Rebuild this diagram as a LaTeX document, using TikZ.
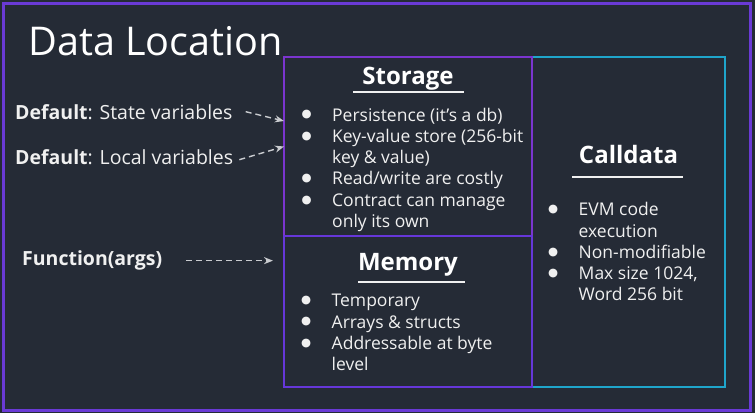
\documentclass[tikz,border=0pt]{standalone}
\usepackage{fontspec}
\setmainfont{Open Sans}
\newfontfamily\dejavu{DejaVu Sans}
\usetikzlibrary{positioning, arrows.meta}

\definecolor{slate}{HTML}{252B36}
\definecolor{framepurple}{HTML}{6A3AD6}
\definecolor{storeviolet}{HTML}{7B35CF}
\definecolor{memviolet}{HTML}{6637D9}
\definecolor{callcyan}{HTML}{1FA5CB}
\definecolor{dashgray}{HTML}{C9CBCF}
\definecolor{inkwhite}{HTML}{F0F0F0}

% bullet with the text column 25.5pt to its right
\newcommand{\itembul}{\makebox[25.5pt][l]{\makebox[0pt]{\raisebox{3.2pt}{\dejavu\fontsize{11.5}{11.5}\selectfont ●}}}}

\begin{document}
\begin{tikzpicture}[
  x=1pt, y=-1pt,
  panel/.style={draw=#1, line width=2.6pt, anchor=north west,
    inner sep=0pt, outer sep=0pt},
  heading/.style={anchor=base, inner sep=0pt, text=white,
    font=\fontsize{24}{28}\selectfont\bfseries},
  bullets/.style={anchor=base west, inner sep=0pt, text=inkwhite,
    font=\fontsize{17.5}{21.3}\selectfont},
  sidelabel/.style={anchor=base west, inner sep=0pt, text=inkwhite,
    font=\fontsize{19.5}{24}\selectfont},
  rule/.style={draw=inkwhite, line width=1.8pt},
  arrow/.style={-{Stealth[length=9pt, width=7pt]}, draw=dashgray,
    line width=1.4pt, dash pattern=on 6pt off 4pt},
]

\useasboundingbox (0,0) rectangle (755,413);
\fill[slate] (0,0) rectangle (755,413);
\draw[framepurple, line width=3pt] (3,3) rectangle (750,410);

\node[anchor=base west, inner sep=0pt, text=white,
  font=\fontsize{39.6}{46}\selectfont] (title) at (28,55) {Data Location};

% the three locations
\node[panel=callcyan, minimum width=193pt, minimum height=330pt] (calldata) at (532,57) {};
\node[panel=storeviolet, minimum width=248pt, minimum height=179pt] (storage) at (284,57) {};
\node[panel=memviolet, minimum width=248pt, minimum height=151pt] (memory) at (284,236) {};

\node[heading] (storhead) at (408,84.3) {Storage};
\draw[rule] ([shift={(-55,7.5)}]storhead.base) -- ([shift={(56,7.5)}]storhead.base);
\node[bullets] (storlist) at (306.5,121) {\begin{tabular}[t]{@{}l@{}l@{}}
  \itembul & Persistence (it’s a db)\\
  \itembul & Key-value store (256-bit\\
           & key \& value)\\
  \itembul & Read/write are costly\\
  \itembul & Contract can manage\\
           & only its own
\end{tabular}};

\node[heading] (memhead) at (408,270) {Memory};
\draw[rule] ([shift={(-50,11.7)}]memhead.base) -- ([shift={(57,11.7)}]memhead.base);
\node[bullets] (memlist) at (306,306.7) {\begin{tabular}[t]{@{}l@{}l@{}}
  \itembul & Temporary\\
  \itembul & Arrays \& structs\\
  \itembul & Addressable at byte\\
           & level
\end{tabular}};

\node[heading] (callhead) at (628.5,163.3) {Calldata};
\draw[rule] ([shift={(-56.5,14)}]callhead.base) -- ([shift={(54.5,14)}]callhead.base);
\node[bullets] (calllist) at (553,215.7) {\begin{tabular}[t]{@{}l@{}l@{}}
  \itembul & EVM code\\
           & execution\\
  \itembul & Non-modifiable\\
  \itembul & Max size 1024,\\
           & Word 256 bit
\end{tabular}};

% what goes where
\node[sidelabel] (state) at (15,119) {\textbf{Default}: State variables};
\node[sidelabel] (local) at (15,164) {\textbf{Default}: Local variables};
\node[sidelabel] (func) at (22,265.7) {\textbf{Function(args)}};

\draw[arrow] ([xshift=13pt]state.east) -- ([yshift=25.5pt]storage.west);
\draw[arrow] ([shift={(6,3)}]local.east) -- (storage.west);
\draw[arrow] ([xshift=24pt]func.east) -- ([xshift=-11pt]memory.west |- func.east);

\end{tikzpicture}
\end{document}
